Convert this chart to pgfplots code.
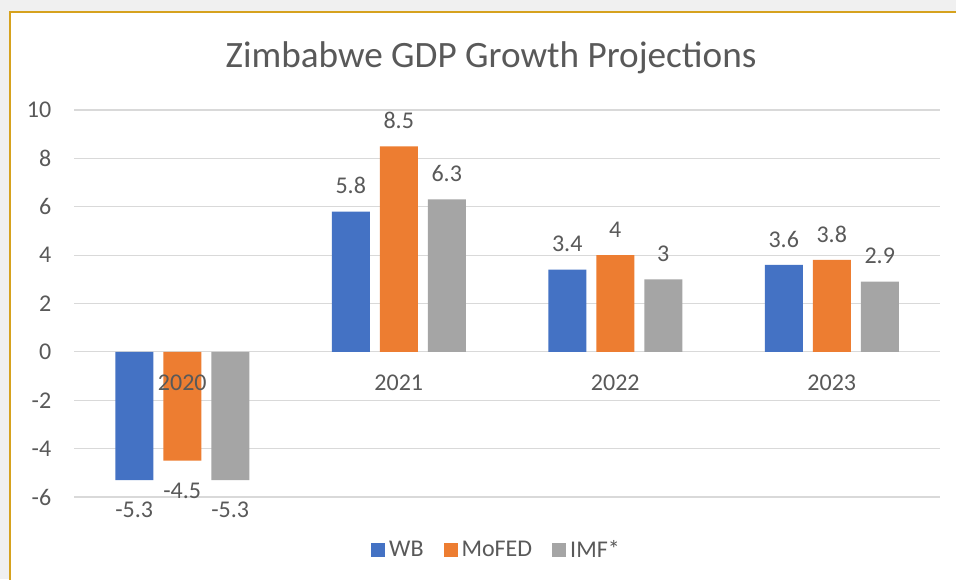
\documentclass[border=0pt]{standalone}
\usepackage{fontspec}
\setmainfont{Carlito}
\usepackage{pgfplots}
\pgfplotsset{compat=1.18}
\definecolor{wbblue}{HTML}{4472C4}
\definecolor{mforange}{HTML}{ED7D31}
\definecolor{imfgray}{HTML}{A5A5A5}
\definecolor{txt}{HTML}{595959}
\definecolor{gridgray}{HTML}{D9D9D9}
\definecolor{bggray}{HTML}{F0F0F0}
\definecolor{gold}{HTML}{D6A21E}

\pgfplotsset{
    zimframe/.style={
        at={(37pt,41pt)}, anchor=south west,
        scale only axis, width=433pt, height=193.5pt,
        xmin=-0.5, xmax=3.5, ymin=-6, ymax=10,
        axis line style={draw=none},
        major tick length=0pt,
        tick label style={font=\fontsize{12}{14}\selectfont, text=txt},
        /pgf/number format/assume math mode=true,
    },
}

\begin{document}
\begin{tikzpicture}
\path[use as bounding box] (0,0) rectangle (478pt,289.5pt);
\fill[bggray] (0,0) rectangle (478pt,289.5pt);
\fill[white] (5pt,0) rectangle (478pt,283.5pt);
\draw[gold, line width=1pt] (5pt,-1pt) -- (5pt,283.5pt) -- (479pt,283.5pt);
\node[text=txt, font=\fontsize{18.6}{22}\selectfont] at (245.5pt,260.5pt) {Zimbabwe GDP Growth Projections};

\begin{axis}[
    zimframe,
    ybar=5pt, bar width=19pt,
    xtick={0,1,2,3}, xticklabels={},
    ytick={-6,-4,...,10},
    ymajorgrids, grid style={draw=gridgray, line width=0.6pt},
    yticklabel style={inner sep=0pt, anchor=east, xshift=-11.2pt},
    nodes near coords, nodes near coords align={vertical},
    visualization depends on={y \as \rawy},
    every node near coord/.append style={font=\fontsize{12}{14}\selectfont, text=txt,
        inner sep=0pt, yshift={8.6-19.4*(\rawy<0)}},
    legend image code/.code={\fill[#1] (0pt,-3.5pt) rectangle (7pt,3.5pt);},
    legend style={at={(0.489,0)}, anchor=center, yshift=-26.5pt, draw=none, fill=none,
        legend columns=-1, font=\fontsize{12}{14}\selectfont, text=txt,
        /tikz/every even column/.append style={column sep=8pt}},
]
\addplot[fill=wbblue, draw=none] coordinates {(0,-5.3) (1,5.8) (2,3.4) (3,3.6)};
\addplot[fill=mforange, draw=none] coordinates {(0,-4.5) (1,8.5) (2,4) (3,3.8)};
\addplot[fill=imfgray, draw=none] coordinates {(0,-5.3) (1,6.3) (2,3) (3,2.9)};
\legend{WB, MoFED, IMF*}
\end{axis}

% category names drawn over the bars
\begin{axis}[
    zimframe,
    xtick={0,1,2,3}, xticklabels={2020,2021,2022,2023},
    ytick=\empty,
    xticklabel style={inner sep=0pt, anchor=north, yshift=61.3pt},
]
\end{axis}
\end{tikzpicture}
\end{document}
